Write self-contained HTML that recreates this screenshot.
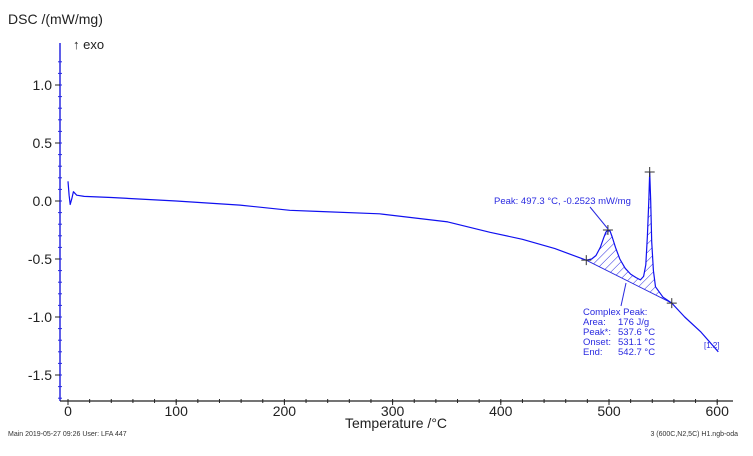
<!DOCTYPE html>
<html><head><meta charset="utf-8"><style>
body{margin:0;background:#fff;}
svg text{font-family:"Liberation Sans",sans-serif;}
</style></head><body>
<svg width="753" height="451" viewBox="0 0 753 451">
<defs>
<pattern id="hatch" patternUnits="userSpaceOnUse" width="6" height="6" patternTransform="rotate(45)">
<line x1="0" y1="0" x2="0" y2="6" stroke="#2a2ae0" stroke-width="1"/>
</pattern>
</defs>
<g id="axes"></g>
<text x="8" y="24" font-size="14" fill="#222">DSC /(mW/mg)</text>
<text x="73" y="49" font-size="13" fill="#222">↑ exo</text>
<text x="396" y="428" font-size="14" fill="#222" text-anchor="middle">Temperature /°C</text>
<text x="8" y="436" font-size="7" fill="#333">Main   2019-05-27 09:26   User: LFA 447</text>
<text x="738" y="436" font-size="7" fill="#333" text-anchor="end">3 (600C,N2,5C)  H1.ngb-oda</text>
<path id="hatchArea" fill="url(#hatch)" stroke="none"/>
<line id="baseline" stroke="#2a2ae0" stroke-width="1"/>
<path id="curve" fill="none" stroke="#1010f0" stroke-width="1.2" stroke-linejoin="round"/>
<g id="marks"></g>
<g fill="#2a2ae0" font-size="9.5">
<text x="494" y="204">Peak: 497.3 °C, -0.2523 mW/mg</text>
<line x1="590" y1="207" x2="608" y2="229" stroke="#2a2ae0"/>
<line x1="626" y1="283" x2="621" y2="306" stroke="#2a2ae0"/>
<text x="583" y="315">Complex Peak:</text>
<text x="583" y="325">Area:</text><text x="618" y="325">176 J/g</text>
<text x="583" y="335">Peak*:</text><text x="618" y="335">537.6 °C</text>
<text x="583" y="345">Onset:</text><text x="618" y="345">531.1 °C</text>
<text x="583" y="355">End:</text><text x="618" y="355">542.7 °C</text>
<text x="704" y="348" font-size="8">[1.2]</text>
</g>
</svg>
<script>
const temps=[0,1,2,3.5,5,8,15,40,100,159,205,230,288,351,390,420,450,479,484,488,492,495,497,499,501,503,506,510,515,520,525,529,532,534,535.5,536.8,537.6,538.5,539.5,541,543,550,558,570,585,601];
const dsc=[0.17,0.05,-0.03,0.02,0.08,0.05,0.04,0.03,0.0,-0.035,-0.08,-0.09,-0.11,-0.18,-0.27,-0.33,-0.41,-0.51,-0.5,-0.47,-0.4,-0.32,-0.27,-0.25,-0.26,-0.31,-0.4,-0.5,-0.58,-0.63,-0.66,-0.68,-0.65,-0.55,-0.3,0.0,0.25,0.0,-0.35,-0.6,-0.74,-0.83,-0.88,-1.0,-1.13,-1.30];
const xTicks=[0,100,200,300,400,500,600];
const yTicks=[1.0,0.5,0.0,-0.5,-1.0,-1.5];
const peakStart=479, peakEnd=558;
const X=t=>68+t*1.082;
const Y=v=>201-v*116;
const ns="http://www.w3.org/2000/svg";
function mk(tag,attrs,parent){const e=document.createElementNS(ns,tag);for(const k in attrs)e.setAttribute(k,attrs[k]);parent.appendChild(e);return e;}
const ax=document.getElementById('axes');
const blue="#2a2ae0";
let l=mk('line',{x1:60,y1:43,x2:60,y2:401,stroke:blue,'stroke-width':1.5},ax);


l=mk('line',{x1:60,y1:401,x2:733,y2:401,stroke:'#222','stroke-width':1.2},ax);


for(let v=-1.7;v<=1.3;v+=0.1){mk('line',{x1:58,x2:62,y1:Y(v),y2:Y(v),stroke:blue},ax);}
yTicks.forEach(v=>{mk('line',{x1:55,x2:60,y1:Y(v),y2:Y(v),stroke:'#222'},ax);
const t=mk('text',{x:52,y:Y(v)+5,'font-size':14,'text-anchor':'end',fill:'#222'},ax);t.textContent=v.toFixed(1);

});
for(let v=0;v<=610;v+=20){mk('line',{x1:X(v),x2:X(v),y1:399,y2:403,stroke:'#222'},ax);}
xTicks.forEach(v=>{mk('line',{x1:X(v),x2:X(v),y1:401,y2:405,stroke:'#222'},ax);
const t=mk('text',{x:X(v),y:416,'font-size':14,'text-anchor':'middle',fill:'#222'},ax);t.textContent=v;

});
document.getElementById('curve').setAttribute('d',temps.map((t,i)=>(i?'L':'M')+X(t).toFixed(1)+','+Y(dsc[i]).toFixed(1)).join(''));
const si=temps.indexOf(peakStart), ei=temps.indexOf(peakEnd);
let d='M'+X(peakStart)+','+Y(dsc[si]);
for(let i=si;i<=ei;i++)d+='L'+X(temps[i])+','+Y(dsc[i]);
d+='Z';
document.getElementById('hatchArea').setAttribute('d',d);
const bl=document.getElementById('baseline');
bl.setAttribute('x1',X(peakStart));bl.setAttribute('y1',Y(dsc[si]));bl.setAttribute('x2',X(peakEnd));bl.setAttribute('y2',Y(dsc[ei]));
const marks=document.getElementById('marks');
[peakStart,499,537.6,peakEnd].forEach(t=>{const i=temps.indexOf(t);const cx=X(t),cy=Y(dsc[i]);
const g=mk('path',{d:`M${cx-5},${cy}H${cx+5}M${cx},${cy-5}V${cy+5}`,stroke:'#333','stroke-width':1},marks);

});
</script>
</body></html>
